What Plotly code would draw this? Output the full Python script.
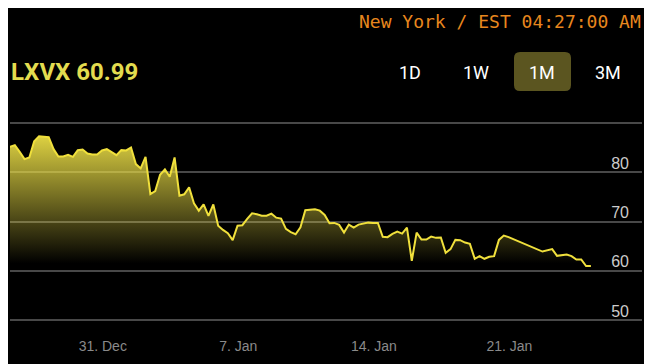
import plotly.graph_objects as go
import pandas as pd

# ---------------- data ----------------
series_start = "2023-12-26 05:00"
n_points = 121
dates = pd.date_range(series_start, periods=n_points, freq="6h")
values = [
    85.15, 85.49, 84.14, 82.66, 83.00, 86.30, 87.31, 87.25, 87.11, 84.68,
    83.20, 83.20, 83.53, 83.12, 84.48, 84.62, 83.81, 83.61, 83.61, 84.42,
    84.68, 84.07, 83.47, 84.48, 84.42, 85.03, 81.65, 80.78, 83.12, 75.58,
    76.18, 79.48, 80.57, 79.08, 83.00, 75.23, 75.52, 76.93, 73.70, 72.20,
    73.49, 71.13, 73.45, 69.16, 68.29, 67.63, 66.21, 69.16, 69.25, 70.52,
    71.67, 71.47, 71.19, 71.19, 71.59, 70.78, 70.58, 68.50, 67.83, 67.42,
    68.84, 72.28, 72.40, 72.48, 72.20, 71.33, 69.65, 69.71, 69.31, 67.75,
    69.37, 68.76, 69.37, 69.51, 69.77, 69.71, 69.71, 66.88, 66.82, 67.49,
    67.95, 67.55, 68.76, 62.02, 67.75, 66.33, 66.33, 66.94, 66.68, 66.74,
    63.64, 64.39, 66.27, 66.21, 65.73, 65.46, 62.43, 62.97, 62.43, 62.83,
    62.97, 66.27, 67.14, 66.82, None, None, None, None, None, None,
    63.90, None, 64.39, 63.03, None, 63.30, 62.97, 62.29, 62.29, 60.95,
    60.99,
]
x_tick_dates = ["2023-12-31", "2024-01-07", "2024-01-14", "2024-01-21"]
x_tick_labels = ["31. Dec", "7. Jan", "14. Jan", "21. Jan"]
x_range = ["2023-12-26 05:00", "2024-01-27 20:20"]
y_ticks = [50, 60, 70, 80, 90]
y_tick_labels = ["50", "60", "70", "80", ""]
y_range = [49.4, 90.6]

symbol = "LXVX"
last_price = 60.99
clock_text = "New York / EST 04:27:00 AM"
range_buttons = ["1D", "1W", "1M", "3M"]
active_button = "1M"

# ---------------- layout geometry (page pixels) ----------------
OFF = 8                     # default body margin of the html page
W, H = 652 - OFF, 364 - OFF
PLOT_L, PLOT_R, PLOT_T, PLOT_B = 10, 642, 120, 323
L, T = PLOT_L - OFF, PLOT_T - OFF
R, B = 652 - PLOT_R, 364 - PLOT_B
PW, PH = PLOT_R - PLOT_L, PLOT_B - PLOT_T


def pxx(p):
    return (p - PLOT_L) / PW


def pxy(p):
    return (PLOT_B - p) / PH


def rounded_rect(x0, y0, x1, y1, r):
    rx, ry = r / PW, r / PH
    a, b, c, d = pxx(x0), pxy(y0), pxx(x1), pxy(y1)  # b top, d bottom
    return (f"M {a+rx},{b} L {c-rx},{b} Q {c},{b} {c},{b-ry} "
            f"L {c},{d+ry} Q {c},{d} {c-rx},{d} L {a+rx},{d} "
            f"Q {a},{d} {a},{d+ry} L {a},{b-ry} Q {a},{b} {a+rx},{b} Z")


LINE = "#f0e03c"

fig = go.Figure()
fig.add_trace(go.Scatter(
    x=dates, y=values, mode="lines", connectgaps=True,
    line=dict(color=LINE, width=2),
    fill="tozeroy",
    fillgradient=dict(
        type="vertical", start=61.5, stop=87.5,
        colorscale=[[0, "rgba(235,222,70,0)"], [1, "rgba(235,222,70,0.95)"]],
    ),
    hoverinfo="skip", showlegend=False,
))

annotations = [
    dict(text=f"{symbol} {last_price:.2f}", x=pxx(9), y=pxy(72),
         xanchor="left", yanchor="middle",
         font=dict(family="Roboto", size=24, color="#e3dc4f", weight="bold")),
    dict(text=clock_text, x=pxx(643), y=pxy(22), xanchor="right", yanchor="middle",
         font=dict(family="DejaVu Sans Mono", size=18, color="#e8871e")),
]
button_centers = [410, 476, 542, 608]
for lab, cx in zip(range_buttons, button_centers):
    annotations.append(dict(text=lab, x=pxx(cx), y=pxy(72), xanchor="center",
                            yanchor="middle",
                            font=dict(family="Roboto", size=18, color="#ffffff")))
for a in annotations:
    a.update(xref="paper", yref="paper", showarrow=False)

active_x = button_centers[range_buttons.index(active_button)]
shapes = [dict(type="path", xref="paper", yref="paper", layer="below",
               path=rounded_rect(active_x - 28, 52, active_x + 29, 91, 6),
               fillcolor="#5b5520", line=dict(width=0))]

fig.update_layout(
    width=W, height=H, margin=dict(l=L, r=R, t=T, b=B, autoexpand=False),
    paper_bgcolor="#000000", plot_bgcolor="#000000",
    annotations=annotations, shapes=shapes,
    xaxis=dict(range=x_range, tickvals=x_tick_dates, ticktext=x_tick_labels,
               showgrid=False, zeroline=False, showline=False, ticks="",
               ticklabelstandoff=13,
               tickfont=dict(family="Liberation Sans", size=14, color="#8a8a8a")),
    yaxis=dict(range=y_range, tickvals=y_ticks, ticktext=y_tick_labels,
               side="right", ticklabelposition="inside", ticklabelstandoff=10,
               ticklabelshift=-9, showgrid=True, gridcolor="#484848", gridwidth=1.6,
               zeroline=False, showline=False, ticks="",
               tickfont=dict(family="Liberation Sans", size=16, color="#cccccc")),
)

fig.write_html("out.html", config={"displayModeBar": False})
